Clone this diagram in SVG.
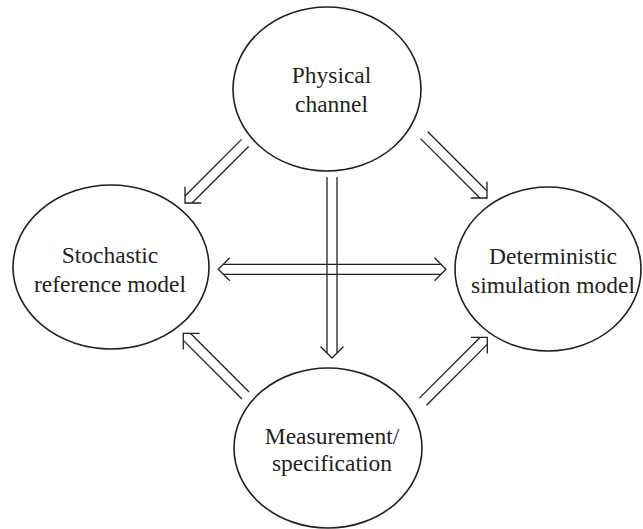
<svg xmlns="http://www.w3.org/2000/svg" width="643" height="529" viewBox="0 0 643 529">
<style>
.node ellipse{fill:#fff;stroke:#231f20;stroke-width:1.6}
.node text{font-family:"Liberation Serif","Times New Roman",serif;font-size:23.5px;fill:#231f20;text-anchor:middle}
.arr line,.arr polyline,.arr use{fill:none;stroke:#231f20;stroke-width:1.3}
</style>
<defs>
<polyline id="head" points="-11.5,-11.5 0,0 -11.5,11.5" fill="none" stroke="#231f20" stroke-width="1.3"/>
</defs>
<rect width="643" height="529" fill="#fff"/>
<g id="connectors" class="arr">
<g transform="translate(185,203) rotate(135)">
<line x1="-85" y1="-5" x2="-5" y2="-5"/><line x1="-85" y1="5" x2="-5" y2="5"/><use href="#head"/>
</g>
<g transform="translate(487,198) rotate(45)">
<line x1="-89" y1="-5" x2="-5" y2="-5"/><line x1="-89" y1="5" x2="-5" y2="5"/><use href="#head"/>
</g>
<g transform="translate(183.3,333.3) rotate(-135)">
<line x1="-88" y1="-5" x2="-5" y2="-5"/><line x1="-88" y1="5" x2="-5" y2="5"/><use href="#head"/>
</g>
<g transform="translate(487.3,337.3) rotate(-45)">
<line x1="-91" y1="-5" x2="-5" y2="-5"/><line x1="-91" y1="5" x2="-5" y2="5"/><use href="#head"/>
</g>
<g transform="translate(332,358) rotate(90)">
<line x1="-181" y1="-5" x2="-5" y2="-5"/><line x1="-181" y1="5" x2="-5" y2="5"/><use href="#head"/>
</g>
<g transform="translate(446,269.3)">
<line x1="-222.7" y1="-5" x2="-5" y2="-5"/><line x1="-222.7" y1="5" x2="-5" y2="5"/><use href="#head"/>
<use href="#head" transform="translate(-227.7,0) scale(-1,1)"/>
</g>
</g>
<g id="physical" class="node">
<ellipse cx="327" cy="89" rx="94" ry="82"/>
<text x="331.5" y="83">Physical</text>
<text x="331.5" y="111.5">channel</text>
</g>
<g id="stochastic" class="node">
<ellipse cx="111" cy="267" rx="98" ry="82"/>
<text x="110" y="262.5">Stochastic</text>
<text x="110" y="291.5">reference model</text>
</g>
<g id="deterministic" class="node">
<ellipse cx="548" cy="269" rx="93" ry="82"/>
<text x="553" y="264">Deterministic</text>
<text x="553" y="293">simulation model</text>
</g>
<g id="measurement" class="node">
<ellipse cx="328" cy="448" rx="94" ry="80"/>
<text x="332" y="444">Measurement/</text>
<text x="332" y="471">specification</text>
</g>
</svg>
